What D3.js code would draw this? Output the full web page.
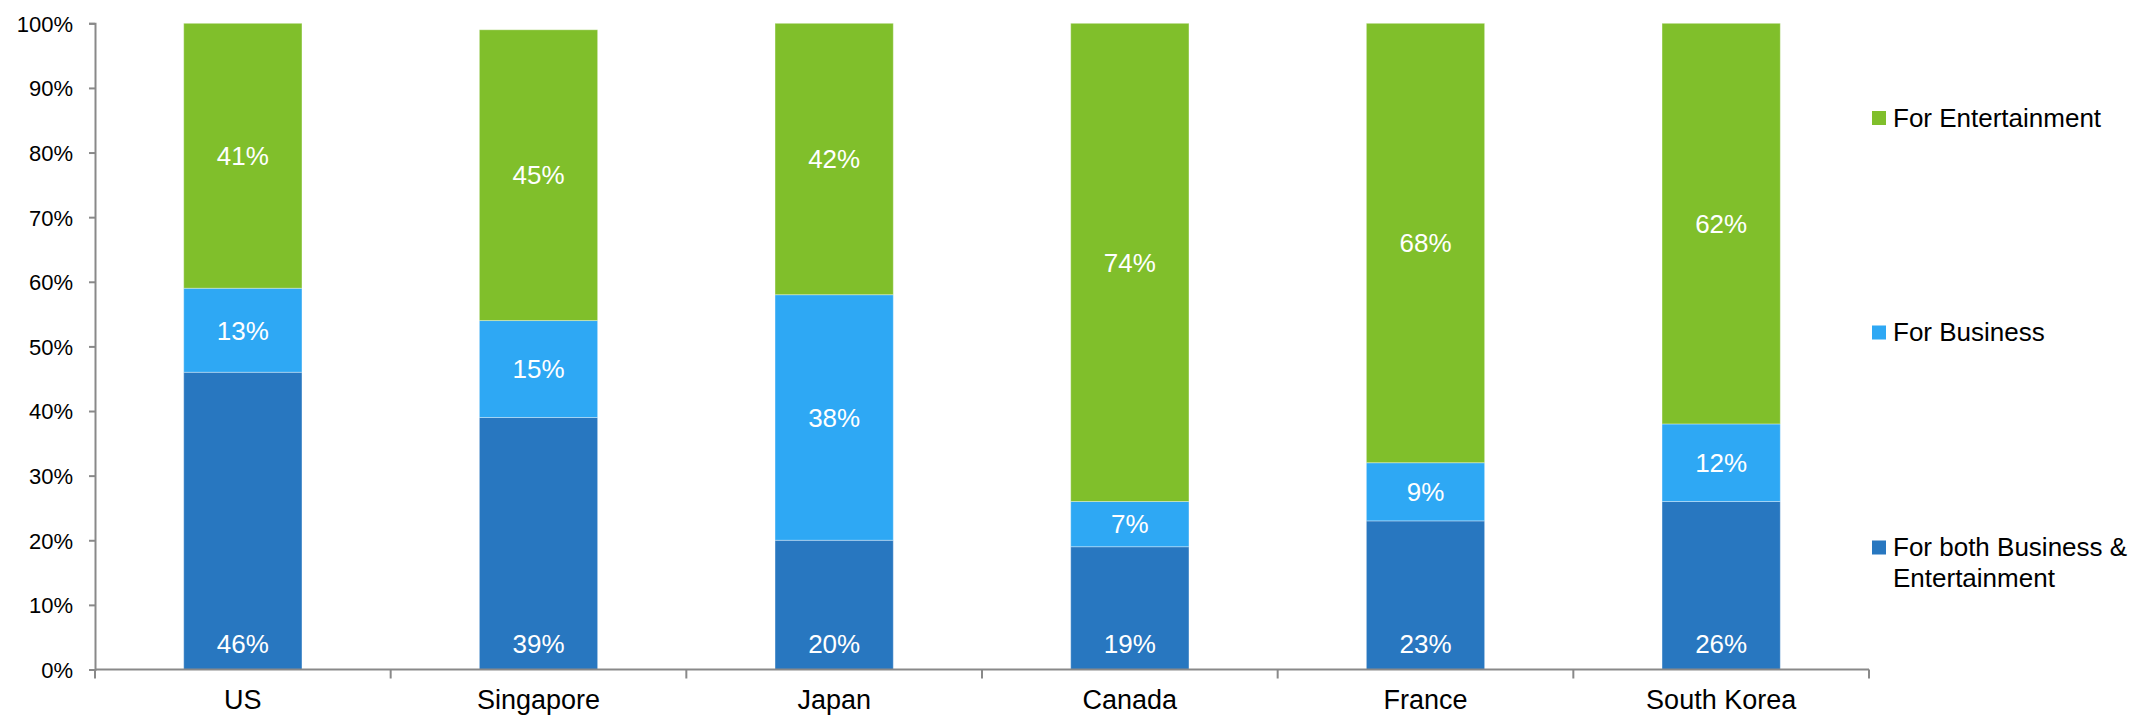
<!DOCTYPE html>
<html>
<head>
<meta charset="utf-8">
<script src="https://cdn.jsdelivr.net/npm/d3@7"></script>
<style>
  html, body { margin: 0; padding: 0; background: #ffffff; }
  svg { display: block; font-family: "Liberation Sans", Arial, sans-serif; }
</style>
</head>
<body>
<svg id="chart" width="2136" height="716"></svg>
<script>
// Share of respondents by purpose, per country (percent)
const countries = ["US", "Singapore", "Japan", "Canada", "France", "South Korea"];
const bothValues = [46, 39, 20, 19, 23, 26];
const businessValues = [13, 15, 38, 7, 9, 12];
const entertainmentValues = [41, 45, 42, 74, 68, 62];
const yTickValues = [0, 10, 20, 30, 40, 50, 60, 70, 80, 90, 100];

const seriesKeys = ["both", "business", "entertainment"];
const colors = { both: "#2877c0", business: "#2ea8f4", entertainment: "#80bf2b" };

const rows = countries.map((c, i) => ({
  country: c,
  both: bothValues[i],
  business: businessValues[i],
  entertainment: entertainmentValues[i]
}));

const svg = d3.select("#chart");
const plotLeft = 95, plotRight = 1869, plotTop = 23.3, plotBottom = 669.5;

const x = d3.scaleBand().domain(countries).range([plotLeft, plotRight])
  .paddingInner(0.6).paddingOuter(0.3);
const y = d3.scaleLinear().domain([0, 100]).range([plotBottom, plotTop]);

const stacked = d3.stack().keys(seriesKeys)(rows);

// Stacked bars
const layers = svg.append("g").selectAll("g").data(stacked).join("g")
  .attr("fill", d => colors[d.key]);

layers.selectAll("rect").data(d => d).join("rect")
  .attr("x", d => x(d.data.country))
  .attr("width", x.bandwidth())
  .attr("y", d => y(d[1]))
  .attr("height", d => y(d[0]) - y(d[1]))
  .attr("stroke", "#ffffff")
  .attr("stroke-opacity", 0.35)
  .attr("stroke-width", 1);

// Value labels: bottom segment sits at the base, others centred
layers.selectAll("text").data(d => d.map(v => Object.assign({ key: d.key }, v))).join("text")
  .attr("x", d => x(d.data.country) + x.bandwidth() / 2)
  .attr("y", d => d.key === "both" ? y(0) - 16.5 : (y(d[0]) + y(d[1])) / 2 + 9.3)
  .attr("text-anchor", "middle")
  .attr("fill", "#ffffff")
  .attr("font-size", 26)
  .text(d => d.data[d.key] + "%");

// Y axis
const yAxis = d3.axisLeft(y).tickValues(yTickValues).tickSize(6).tickPadding(16)
  .tickFormat(d => d + "%");
const yg = svg.append("g").attr("transform", `translate(${plotLeft},0)`).call(yAxis);
yg.select(".domain").attr("stroke", "#898989").attr("stroke-width", 2);
yg.selectAll(".tick line").attr("stroke", "#898989").attr("stroke-width", 2);
yg.selectAll(".tick text").attr("font-size", 22).attr("fill", "#000")
  .attr("font-family", "Liberation Sans, Arial, sans-serif").attr("dy", "0.36em");

// X axis: baseline, boundary ticks between categories, labels at centres
const xg = svg.append("g");
xg.append("line").attr("x1", plotLeft).attr("x2", plotRight).attr("y1", plotBottom).attr("y2", plotBottom)
  .attr("stroke", "#898989").attr("stroke-width", 2);
const boundaries = countries.map(c => x(c) - x.step() * x.paddingInner() / 2)
  .concat([x(countries[countries.length - 1]) + x.bandwidth() + x.step() * x.paddingInner() / 2]);
xg.selectAll("line.tick").data(boundaries).join("line").attr("class", "tick")
  .attr("x1", d => d).attr("x2", d => d).attr("y1", plotBottom).attr("y2", plotBottom + 9)
  .attr("stroke", "#898989").attr("stroke-width", 2);
xg.selectAll("text").data(countries).join("text")
  .attr("x", d => x(d) + x.bandwidth() / 2)
  .attr("y", 709)
  .attr("text-anchor", "middle")
  .attr("font-size", 27)
  .attr("fill", "#000")
  .text(d => d);

// Legend
const legendItems = [
  { key: "entertainment", lines: ["For Entertainment"], y: 126.5 },
  { key: "business", lines: ["For Business"], y: 341 },
  { key: "both", lines: ["For both Business &", "Entertainment"], y: 556 }
];
const lg = svg.append("g").selectAll("g").data(legendItems).join("g");
lg.append("rect")
  .attr("x", 1872).attr("y", d => d.y - 15.5)
  .attr("width", 14).attr("height", 14)
  .attr("fill", d => colors[d.key]);
lg.append("text")
  .attr("x", 1893).attr("y", d => d.y)
  .attr("font-size", 26).attr("fill", "#000")
  .selectAll("tspan").data(d => d.lines).join("tspan")
  .attr("x", 1893).attr("dy", (d, i) => i === 0 ? 0 : 30.7)
  .text(d => d);
</script>
</body>
</html>
